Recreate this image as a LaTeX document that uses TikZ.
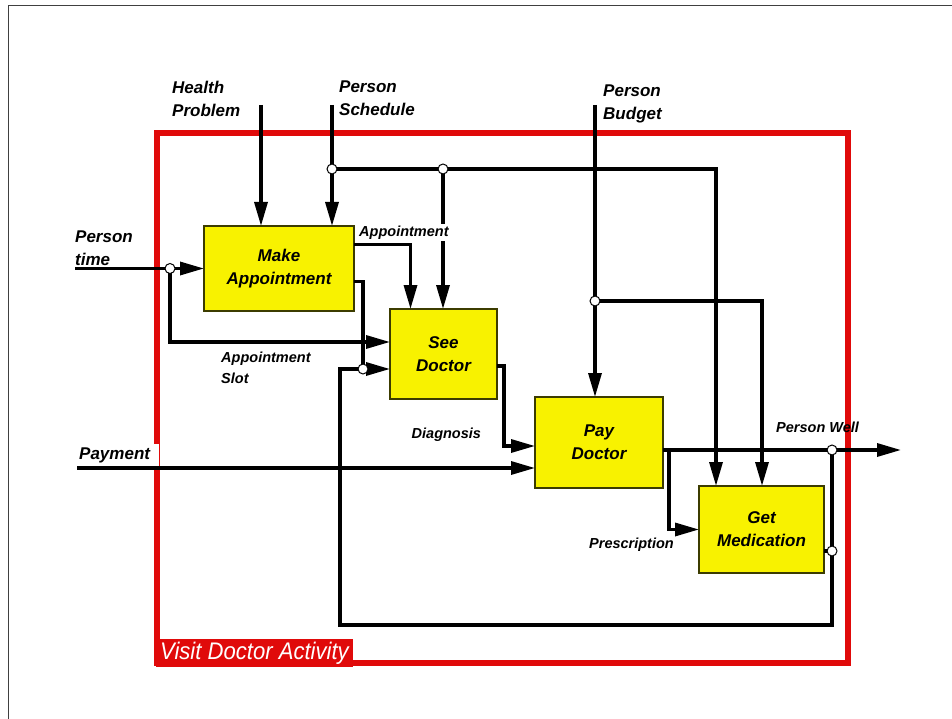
\documentclass[tikz,border=0pt]{standalone}
\usepackage{fontspec}
\usepackage{graphicx}
\setmainfont{Liberation Sans}
\usetikzlibrary{arrows.meta}

\definecolor{boxfill}{RGB}{248,242,0}
\definecolor{boxedge}{RGB}{60,60,0}
\definecolor{vdred}{RGB}{224,10,10}

\tikzset{
  box/.style={draw=boxedge, fill=boxfill, line width=1.2pt, outer sep=0pt, align=center,
    font=\bfseries\itshape\fontsize{17}{23}\selectfont},
  flow/.style={line width=3.3pt, -{Triangle[length=24pt,width=13pt]}},
  link/.style={line width=3.3pt},
  junc/.style={circle, draw, fill=white, line width=1pt, inner sep=0pt, minimum size=10pt},
  biglbl/.style={inner sep=0pt, align=left, font=\bfseries\itshape\fontsize{17}{23}\selectfont},
  smalllbl/.style={inner sep=0pt, align=left, font=\bfseries\itshape\fontsize{14.5}{21}\selectfont}
}

\begin{document}
\begin{tikzpicture}[x=1pt, y=-1pt]

	\useasboundingbox (0,0) rectangle (952,719);
	\draw[line width=1pt, black!75] (8,719) -- (8,6) -- (952,6);

	% activity frame
	\draw[vdred, line width=6pt] (157,133) rectangle (848,663);
	\node[anchor=base west, fill=vdred, text=white, inner xsep=4pt, inner ysep=3pt,
	  font=\itshape\fontsize{24}{26}\selectfont] (vda) at (156,659)
	  {\scalebox{0.92}[1]{Visit Doctor Activity}};

	% activities
	\node[box, minimum width=150pt, minimum height=85pt] (ma) at (279,268.5) {Make\\Appointment};
	\node[box, minimum width=107pt, minimum height=90pt] (sd) at (443.5,354) {See\\Doctor};
	\node[box, minimum width=128pt, minimum height=91pt] (pd) at (599,442.5) {Pay\\Doctor};
	\node[box, minimum width=125pt, minimum height=87pt] (gm) at (761.5,529.5) {Get\\Medication};

	% labels
	\node[biglbl, anchor=north west] (hpl) at (172,80.5) {Health\\Problem};
	\node[biglbl, anchor=north west] (psl) at (339,80.5) {Person\\Schedule};
	\node[biglbl, anchor=north west] (pbl) at (603,84.5) {Person\\Budget};
	\node[biglbl, anchor=north west] (ptl) at (75,231) {Person\\time};
	\node[biglbl, anchor=base west, fill=white, inner xsep=9pt, inner ysep=3pt] (payl) at (70,459) {Payment};
	\node[smalllbl, anchor=north west] (asl) at (221,351.3) {Appointment\\Slot};
	\node[smalllbl, anchor=base west] (dgl) at (411.5,438) {Diagnosis};
	\node[smalllbl, anchor=base west] (prl) at (589,548) {Prescription};
	\node[smalllbl, anchor=base west] (pwl) at (776,432.5) {Person Well};

	\coordinate (hpIn) at (261,105);
	\coordinate (psIn) at (332,105);
	\coordinate (pbIn) at (595,105);
	\coordinate (ptIn) at (75,268.5);
	\coordinate (payIn) at (77,468);
	\coordinate (pwOut) at (901,450);
	\coordinate (dgBend) at (504,446);
	\coordinate (prBend) at (669,450);
	\coordinate (fbL) at (340,625);
	\coordinate (jS1) at (332,169);
	\coordinate (jS2) at (443,169);
	\coordinate (jB) at (595,301);
	\coordinate (jT) at (170,268.5);
	\coordinate (jA) at (363,369);
	\coordinate (jW) at (832,450);
	\coordinate (jG) at (832,551);

	% arrows
	\draw[flow] (hpIn) -- (hpIn |- ma.north);
	\draw[flow] (psIn) -- (psIn |- ma.north);
	\draw[flow] (jS1) -| ([xshift=17pt]gm.north west);
	\draw[flow] (jS2) -- (jS2 |- sd.north);
	\draw[flow] (pbIn) -- (pbIn |- pd.north);
	\draw[flow] (jB) -| ([xshift=63pt]gm.north west);
	\draw[flow] (ptIn) -- (ma.west);
	\draw[flow] (jT) |- ([yshift=12pt]sd.west);
	\draw[flow] ([yshift=24pt]ma.east) -| ([xshift=-33pt]sd.north);
	\draw[link] ([yshift=-13pt]ma.east) -| (jA);
	\draw[flow] (jW) |- (fbL) |- ([yshift=-15pt]sd.west);
	\draw[link] ([yshift=-21.5pt]gm.east) -- (jG);
	\draw[flow] ([yshift=-12pt]sd.east) -| (dgBend) -- (dgBend -| pd.west);
	\draw[flow] (payIn) -- (payIn -| pd.west);
	\draw[flow] (pd.east |- pwOut) -- (pwOut);
	\draw[flow] (prBend) |- (gm.west);

	\node[smalllbl, anchor=base west, fill=white, inner sep=1.5pt] (apl) at (357.5,236.5) {Appointment};

	\foreach \j in {jS1,jS2,jB,jT,jA,jW,jG}
	  \node[junc] (c\j) at (\j) {};

\end{tikzpicture}
\end{document}
